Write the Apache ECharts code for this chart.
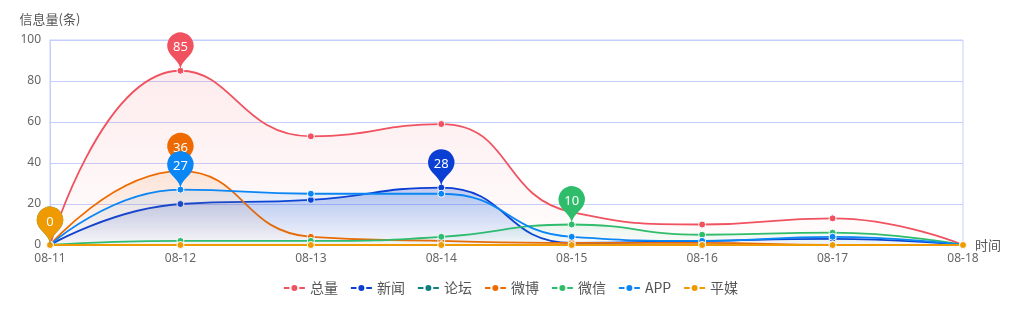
<!DOCTYPE html>
<html><head><meta charset="utf-8">
<script src="https://cdn.jsdelivr.net/npm/echarts@6/dist/echarts.min.js"></script>
<style>html,body{margin:0;padding:0;background:#fff}#c{width:1021px;height:324px}</style>
</head><body><div id="c"></div>
<script>
const categories = ['08-11','08-12','08-13','08-14','08-15','08-16','08-17','08-18'];
const seriesNames = ['总量','新闻','论坛','微博','微信','APP','平媒'];
const total   = [0, 85, 53, 59, 16, 10, 13, 0];
const news    = [0, 20, 22, 28, 1, 2, 3, 0];
const forum   = [0, 0, 0, 0, 0, 0, 0, 0];
const weibo   = [0, 36, 4, 2, 1, 1, 0, 0];
const weixin  = [0, 2, 2, 4, 10, 5, 6, 0];
const app     = [0, 27, 25, 25, 4, 2, 4, 0];
const pingmei = [0, 0, 0, 0, 0, 0, 0, 0];
const yTicks = [0, 20, 40, 60, 80, 100];

const colors = ['#f0525f','#0b3fd4','#0e7f80','#ee6a00','#2fbd6c','#0a86f5','#ee9a00'];
const areaOp = [0.16, 0.35, 0.0, 0.18, 0.14, 0.15, 0.0];
const dataList = [total, news, forum, weibo, weixin, app, pingmei];

function hexA(h, a){const r=parseInt(h.slice(1,3),16),g=parseInt(h.slice(3,5),16),b=parseInt(h.slice(5,7),16);return `rgba(${r},${g},${b},${a})`;}

const series = seriesNames.map((n,i)=>({
  name:n, type:'line', smooth:true, data:dataList[i],
  symbol:'circle', symbolSize:7, showSymbol:true,
  itemStyle:{color:colors[i], borderColor:'#fff', borderWidth:1},
  lineStyle:{width:1.8, color:colors[i]},
  areaStyle: areaOp[i] > 0 ? {color:new echarts.graphic.LinearGradient(0,0,0,1,[{offset:0,color:hexA(colors[i],areaOp[i])},{offset:1,color:hexA(colors[i],0.02)}])} : undefined,
  z: 2 + i,
  markPoint:{
    symbol:'pin', symbolSize:44, z: 20 + i,
    data:[{type:'max'}],
    label:{color:'#fff', fontSize:13, fontFamily:'Noto Sans'},
    itemStyle:{color:colors[i]}
  }
}));

const chart = echarts.init(document.getElementById('c'));
chart.setOption({
  animation:false,
  color:colors,
  grid:{left:50, right:58, top:40, bottom:79, show:true, borderColor:'#c4cfff', borderWidth:1},
  legend:{bottom:24, left:'center', itemWidth:21, itemHeight:10, itemGap:12,
    textStyle:{color:'#555', fontSize:14, fontFamily:'Noto Sans CJK SC'},
    data:seriesNames},
  xAxis:{type:'category', data:categories, boundaryGap:false, name:'时间',
    nameTextStyle:{color:'#555', fontSize:13, fontFamily:'Noto Sans CJK SC'}, nameGap:12,
    axisLine:{lineStyle:{color:'#c4cfff'}}, axisTick:{show:false},
    axisLabel:{color:'#666', fontSize:12, margin:8, fontFamily:'Noto Sans'}},
  yAxis:{type:'value', min:0, max:100, interval:20, name:'信息量(条)',
    nameTextStyle:{color:'#555', fontSize:13, align:'center', fontFamily:'Noto Sans CJK SC', padding:[0,0,0,0]}, nameGap:14,
    axisLine:{show:true, lineStyle:{color:'#c4cfff'}}, axisTick:{show:false},
    axisLabel:{color:'#666', fontSize:12, margin:9, fontFamily:'Noto Sans',
      formatter:v=>yTicks.includes(v)?String(v):''},
    splitLine:{lineStyle:{color:'#c4cfff'}}},
  series:series
});
</script></body></html>
